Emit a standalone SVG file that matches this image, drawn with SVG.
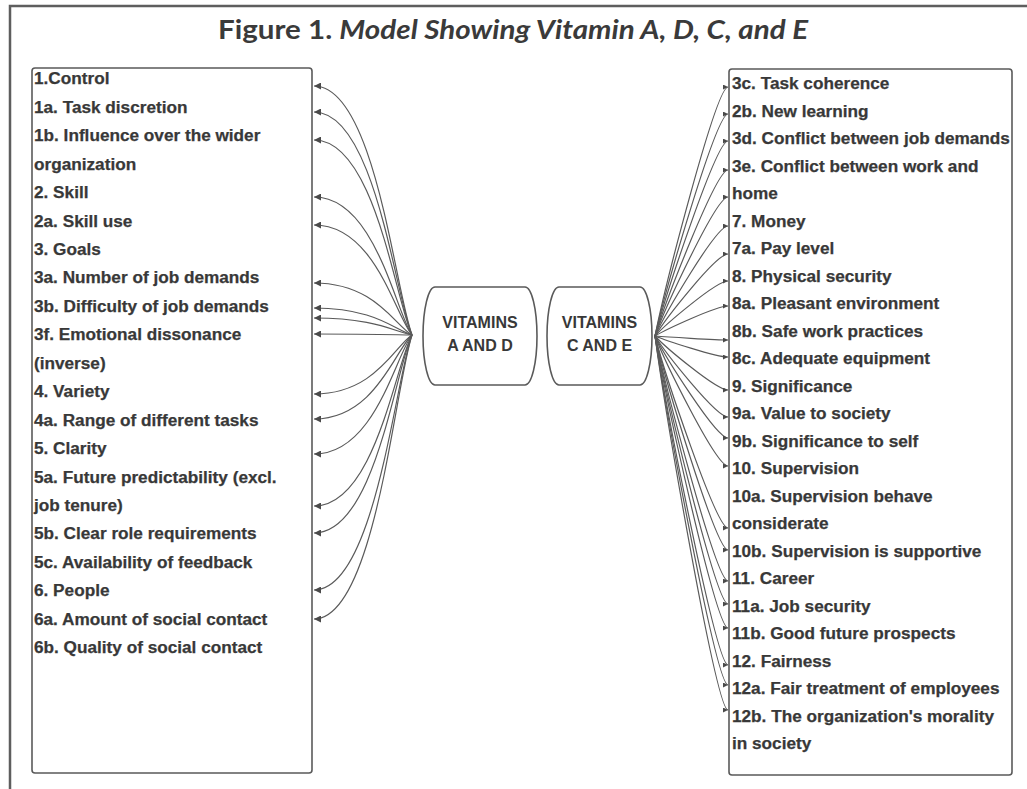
<svg xmlns="http://www.w3.org/2000/svg" width="1027" height="789" viewBox="0 0 1027 789">
<style>
.frame{fill:none;stroke:#5e5e5e;stroke-width:2.5}
.box{fill:#fff;stroke:#5a5a5a;stroke-width:1.6}
.item{font-family:"Liberation Sans",Arial,sans-serif;font-weight:bold;font-size:17.2px;fill:#383838;stroke:#383838;stroke-width:0.25}
.ntext{font-family:"Liberation Sans",Arial,sans-serif;font-weight:bold;font-size:16px;fill:#383838}
.title{font-family:Lato,"Liberation Sans",sans-serif;font-weight:bold;font-size:27px;fill:#3a3a3a}
.conn path{fill:none;stroke:#5a5a5a;stroke-width:1.2}
.connL path{marker-end:url(#al)}
.connR path{marker-end:url(#ar)}
</style>
<defs>
<marker id="al" viewBox="0 0 10 10" refX="10" refY="5" markerWidth="9" markerHeight="7" orient="auto" markerUnits="userSpaceOnUse"><path d="M0,0 L10,5 L0,10 z" fill="#4a4a4a"/></marker>
<marker id="ar" viewBox="0 0 10 10" refX="10" refY="5" markerWidth="7" markerHeight="5" orient="auto" markerUnits="userSpaceOnUse"><path d="M0,0 L10,5 L0,10 z" fill="#4a4a4a"/></marker>
</defs>
<rect width="1027" height="789" fill="#fff"/>
<path class="frame" d="M10,789 V6 H1027"/>
<text class="title" x="218" y="39" textLength="590" lengthAdjust="spacingAndGlyphs">Figure 1. <tspan font-style="italic">Model Showing Vitamin A, D, C, and E</tspan></text>

<g id="left-list">
<rect class="box" x="32" y="68" width="280" height="705" rx="3"/>
<text class="item" x="34">
<tspan x="34" y="84">1.Control</tspan>
<tspan x="34" y="112.5">1a. Task discretion</tspan>
<tspan x="34" y="141">1b. Influence over the wider</tspan>
<tspan x="34" y="169.5">organization</tspan>
<tspan x="34" y="198">2. Skill</tspan>
<tspan x="34" y="226.5">2a. Skill use</tspan>
<tspan x="34" y="254.5">3. Goals</tspan>
<tspan x="34" y="283">3a. Number of job demands</tspan>
<tspan x="34" y="311.5">3b. Difficulty of job demands</tspan>
<tspan x="34" y="340">3f. Emotional dissonance</tspan>
<tspan x="34" y="368.5">(inverse)</tspan>
<tspan x="34" y="397">4. Variety</tspan>
<tspan x="34" y="425.5">4a. Range of different tasks</tspan>
<tspan x="34" y="454">5. Clarity</tspan>
<tspan x="34" y="482.5">5a. Future predictability (excl.</tspan>
<tspan x="34" y="511">job tenure)</tspan>
<tspan x="34" y="539">5b. Clear role requirements</tspan>
<tspan x="34" y="567.5">5c. Availability of feedback</tspan>
<tspan x="34" y="596">6. People</tspan>
<tspan x="34" y="624.5">6a. Amount of social contact</tspan>
<tspan x="34" y="653">6b. Quality of social contact</tspan>
</text>
</g>

<g id="right-list">
<rect class="box" x="729" y="69" width="283" height="706" rx="3"/>
<text class="item" x="732">
<tspan x="732" y="89">3c. Task coherence</tspan>
<tspan x="732" y="116.5">2b. New learning</tspan>
<tspan x="732" y="144">3d. Conflict between job demands</tspan>
<tspan x="732" y="171.5">3e. Conflict between work and</tspan>
<tspan x="732" y="199">home</tspan>
<tspan x="732" y="226.5">7. Money</tspan>
<tspan x="732" y="254">7a. Pay level</tspan>
<tspan x="732" y="281.5">8. Physical security</tspan>
<tspan x="732" y="309">8a. Pleasant environment</tspan>
<tspan x="732" y="336.5">8b. Safe work practices</tspan>
<tspan x="732" y="364">8c. Adequate equipment</tspan>
<tspan x="732" y="391.5">9. Significance</tspan>
<tspan x="732" y="419">9a. Value to society</tspan>
<tspan x="732" y="446.5">9b. Significance to self</tspan>
<tspan x="732" y="474">10. Supervision</tspan>
<tspan x="732" y="501.5">10a. Supervision behave</tspan>
<tspan x="732" y="529">considerate</tspan>
<tspan x="732" y="556.5">10b. Supervision is supportive</tspan>
<tspan x="732" y="584">11. Career</tspan>
<tspan x="732" y="611.5">11a. Job security</tspan>
<tspan x="732" y="639">11b. Good future prospects</tspan>
<tspan x="732" y="666.5">12. Fairness</tspan>
<tspan x="732" y="694">12a. Fair treatment of employees</tspan>
<tspan x="732" y="721.5">12b. The organization's morality</tspan>
<tspan x="732" y="749">in society</tspan>
</text>
</g>

<g id="node-ad">
<rect class="box" x="423" y="287" width="114" height="98" rx="12" ry="49"/>
<text class="ntext" x="480" y="328" text-anchor="middle">VITAMINS</text>
<text class="ntext" x="480" y="351" text-anchor="middle">A AND D</text>
</g>

<g id="node-ce">
<rect class="box" x="547" y="287" width="105" height="98" rx="12" ry="49"/>
<text class="ntext" x="599.5" y="328" text-anchor="middle">VITAMINS</text>
<text class="ntext" x="599.5" y="351" text-anchor="middle">C AND E</text>
</g>

<g id="connectors" class="conn">
<g class="connL">
<path d="M412,335 C395,290.2 375,86 314,86"/>
<path d="M412,335 C395,294.9 375,112 314,112"/>
<path d="M412,335 C395,299.9 375,140 314,140"/>
<path d="M412,335 C395,310.2 375,197 314,197"/>
<path d="M412,335 C395,315.2 375,225 314,225"/>
<path d="M412,335 C395,325.6 375,283 314,283"/>
<path d="M412,335 C395,330.1 375,308 314,308"/>
<path d="M412,335 C395,331.9 375,318 314,318"/>
<path d="M412,335 C395,334.8 375,334 314,334"/>
<path d="M412,335 C395,345.6 375,394 314,394"/>
<path d="M412,335 C395,350.1 375,419 314,419"/>
<path d="M412,335 C395,356.4 375,454 314,454"/>
<path d="M412,335 C395,365.8 375,506 314,506"/>
<path d="M412,335 C395,370.6 375,533 314,533"/>
<path d="M412,335 C395,380.9 375,590 314,590"/>
<path d="M412,335 C395,386.1 375,619 314,619"/>
</g>
<g class="connR">
<path d="M655,336 C665,286.2 716,87 728,87"/>
<path d="M655,336 C665,291.6 716,114 728,114"/>
<path d="M655,336 C665,297 716,141 728,141"/>
<path d="M655,336 C665,302.8 716,170 728,170"/>
<path d="M655,336 C665,308.2 716,197 728,197"/>
<path d="M655,336 C665,314 716,226 728,226"/>
<path d="M655,336 C665,319.6 716,254 728,254"/>
<path d="M655,336 C665,325 716,281 728,281"/>
<path d="M655,336 C665,330 716,306 728,306"/>
<path d="M655,336 C665,336.8 716,340 728,340"/>
<path d="M655,336 C665,340.2 716,357 728,357"/>
<path d="M655,336 C665,346.8 716,390 728,390"/>
<path d="M655,336 C665,352.2 716,417 728,417"/>
<path d="M655,336 C665,356.4 716,438 728,438"/>
<path d="M655,336 C665,362 716,466 728,466"/>
<path d="M655,336 C665,374.4 716,528 728,528"/>
<path d="M655,336 C665,378.8 716,550 728,550"/>
<path d="M655,336 C665,385 716,581 728,581"/>
<path d="M655,336 C665,389.6 716,604 728,604"/>
<path d="M655,336 C665,394.4 716,628 728,628"/>
<path d="M655,336 C665,401.8 716,665 728,665"/>
<path d="M655,336 C665,405.8 716,685 728,685"/>
<path d="M655,336 C665,410.8 716,710 728,710"/>
</g>
</g>
</svg>
